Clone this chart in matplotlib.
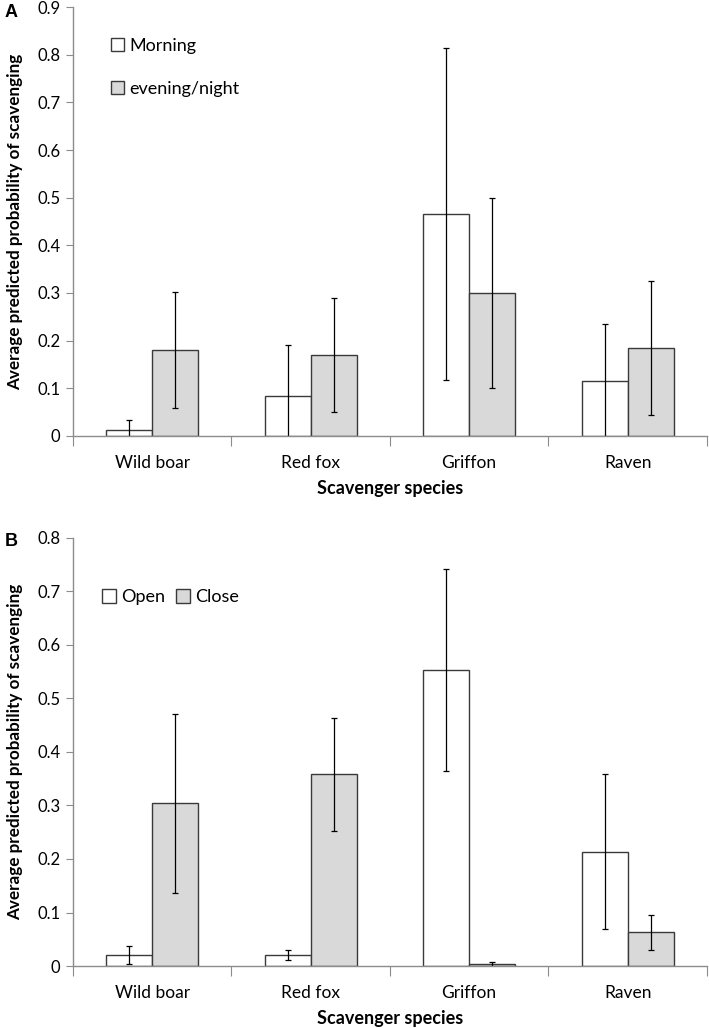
import numpy as np
import matplotlib.pyplot as plt

species = ['Wild boar', 'Red fox', 'Griffon', 'Raven']

# panel A: time of day
morning = [0.012, 0.083, 0.466, 0.115]
morning_lo = [-0.010, -0.024, 0.118, -0.006]
morning_hi = [0.033, 0.190, 0.815, 0.235]
evening = [0.180, 0.170, 0.300, 0.185]
evening_lo = [0.058, 0.050, 0.100, 0.044]
evening_hi = [0.302, 0.290, 0.500, 0.326]

# panel B: habitat
open_ = [0.021, 0.020, 0.553, 0.213]
open_lo = [0.004, 0.011, 0.364, 0.069]
open_hi = [0.038, 0.029, 0.742, 0.359]
close = [0.304, 0.358, 0.004, 0.063]
close_lo = [0.136, 0.253, -0.002, 0.030]
close_hi = [0.471, 0.464, 0.008, 0.096]

plt.rcParams['font.family'] = ['Lato', 'DejaVu Sans']

fig = plt.figure(figsize=(7.09, 10.28), dpi=100)
axA = fig.add_axes([0.103, 0.576, 0.894, 0.417])
axB = fig.add_axes([0.103, 0.0603, 0.894, 0.4164])

x = np.arange(len(species))
w = 0.29
spine_col = '#8c8c8c'


def draw(ax, v1, lo1, hi1, v2, lo2, hi2, lab1, lab2, ymax):
    v1, v2 = np.array(v1), np.array(v2)
    e1 = [v1 - np.array(lo1), np.array(hi1) - v1]
    e2 = [v2 - np.array(lo2), np.array(hi2) - v2]
    ax.bar(x - w/2, v1, w, color='white', edgecolor='#3a3a3a', lw=1.0,
           yerr=e1, capsize=2.5, error_kw=dict(elinewidth=0.9, capthick=0.9, ecolor='black'),
           label=lab1, zorder=2)
    ax.bar(x + w/2, v2, w, color='#d9d9d9', edgecolor='#3a3a3a', lw=1.0,
           yerr=e2, capsize=2.5, error_kw=dict(elinewidth=0.9, capthick=0.9, ecolor='black'),
           label=lab2, zorder=2)
    ax.set_xlim(-0.5, 3.5)
    ax.set_ylim(0, ymax)
    ax.set_yticks(np.round(np.arange(0, ymax + 0.01, 0.1), 1))
    ax.set_yticklabels(['0'] + [f'{t:.1f}' for t in np.arange(0.1, ymax + 0.01, 0.1)])
    ax.set_xticks(np.arange(-0.5, 4, 1))
    ax.set_xticklabels([])
    ax.set_xticks(x, minor=True)
    ax.set_xticklabels(species, minor=True, fontsize=12.5)
    ax.tick_params(axis='x', which='minor', length=0, pad=14)
    ax.tick_params(axis='x', which='major', length=7, color=spine_col, direction='out')
    ax.tick_params(axis='y', length=5, color=spine_col, labelsize=12, pad=4)
    for s in ['top', 'right']:
        ax.spines[s].set_visible(False)
    for s in ['left', 'bottom']:
        ax.spines[s].set_color(spine_col)
        ax.spines[s].set_linewidth(1.0)
    ax.set_xlabel('Scavenger species', fontsize=13, fontweight='bold', labelpad=6)
    ax.set_ylabel('Average predicted probability of scavenging', fontsize=12.3,
                  fontweight='bold', labelpad=10)


draw(axA, morning, morning_lo, morning_hi, evening, evening_lo, evening_hi,
     'Morning', 'evening/night', 0.9)
draw(axB, open_, open_lo, open_hi, close, close_lo, close_hi,
     'Open', 'Close', 0.8)

axA.legend(loc='upper left', bbox_to_anchor=(0.048, 0.945), frameon=False, fontsize=13,
           handlelength=0.75, handleheight=0.75, handletextpad=0.3, labelspacing=1.5,
           borderaxespad=0)
axB.legend(loc='upper left', bbox_to_anchor=(0.035, 0.897), frameon=False, fontsize=13,
           ncol=2, handlelength=0.75, handleheight=0.75, handletextpad=0.3,
           columnspacing=0.6, borderaxespad=0)

fig.text(0.006, 0.983, 'A', fontsize=13, fontweight='bold', family='Liberation Sans')
fig.text(0.006, 0.469, 'B', fontsize=13, fontweight='bold', family='Liberation Sans')

plt.savefig('out.png', dpi=100)
